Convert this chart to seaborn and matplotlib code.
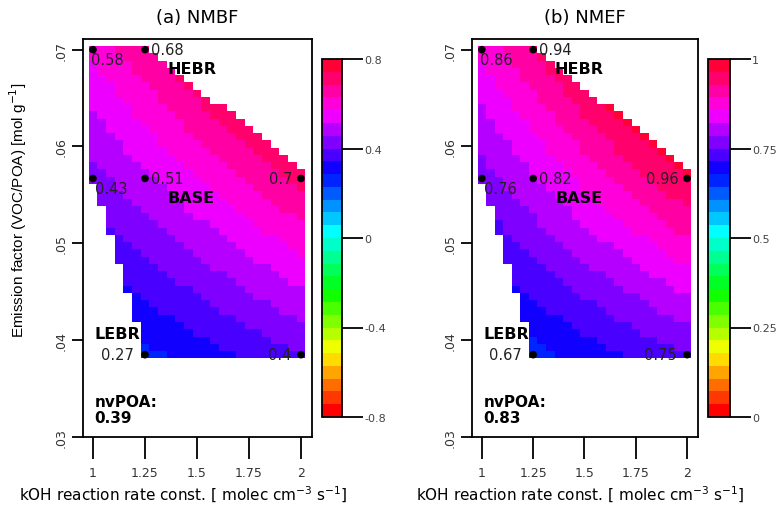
import colorsys
import numpy as np
import matplotlib
matplotlib.use("Agg")
import matplotlib.pyplot as plt
from matplotlib.colors import ListedColormap, BoundaryNorm
from matplotlib.ticker import NullLocator
import seaborn as sns

# labelled model runs (kOH rate const., emission factor) and their scores
run_koh = [1.0, 1.25, 1.0, 1.25, 2.0, 1.25, 2.0]
run_ef = [0.07, 0.07, 0.0567, 0.0567, 0.0567, 0.0385, 0.0385]
nmbf_vals = [0.58, 0.68, 0.43, 0.51, 0.70, 0.27, 0.40]
nmef_vals = [0.86, 0.94, 0.76, 0.82, 0.96, 0.67, 0.75]
nvpoa_vals = [0.39, 0.83]

upper_koh = [1.0, 1.25, 2.0]
upper_ef = [0.0706, 0.0706, 0.0574]
lower_koh = [1.0, 1.04, 1.07, 1.115, 1.163, 1.202, 1.226, 1.245, 2.0]
lower_ef = [0.0559, 0.0538, 0.0514, 0.0484, 0.0450, 0.0425, 0.0404, 0.0380, 0.0380]

x_ticks = [1, 1.25, 1.5, 1.75, 2]
x_ticklabels = ["1", "1.25", "1.5", "1.75", "2"]
y_ticks = [0.03, 0.04, 0.05, 0.06, 0.07]
y_ticklabels = [".03", ".04", ".05", ".06", ".07"]

titles = ["(a) NMBF", "(b) NMEF"]
cbar_ranges = [(-0.8, 0.8), (0.0, 1.0)]
cbar_ticks = [[-0.8, -0.4, 0, 0.4, 0.8], [0, 0.25, 0.5, 0.75, 1]]
cbar_ticklabels = [["-0.8", "-0.4", "0", "0.4", "0.8"], ["0", "0.25", "0.5", "0.75", "1"]]

# (run index, dx px, dy px, ha)
point_labels = [(0, -2, -10, "left"), (1, 6, 0, "left"), (2, 2, -10, "left"),
                (3, 6, 0, "left"), (4, -8, 0, "right"), (5, -11, 0, "right"),
                (6, -10, 0, "right")]

N_LEVELS = 28

sns.set_style("white")
plt.rcParams["font.family"] = ["DejaVu Sans"]
plt.rcParams["text.color"] = "black"

# R-like rainbow palette
colors = [colorsys.hsv_to_rgb(i / N_LEVELS, 1, 1) for i in range(N_LEVELS)]
cmap = ListedColormap(colors)

# response surface grid
gx = np.linspace(1.0, 2.0, 25)
gy = np.linspace(0.0385, 0.07, 43)
GX, GY = np.meshgrid(gx, gy)
inside = (GY <= np.interp(GX, upper_koh, upper_ef) + 1e-9) & (GY >= np.interp(GX, lower_koh, lower_ef) - 1e-9)

fig = plt.figure(figsize=(7.81, 5.06), dpi=100)
W, H = 781, 506


def fig_rect(l, t, r, b):
    return [l / W, 1 - b / H, (r - l) / W, (b - t) / H]


axes_px = [(83, 40, 312, 438), (472, 40, 698, 438)]
cbar_px = [(322, 60, 342, 418), (708, 60, 730, 418)]
xlabel_cx = [183, 580]
px2pt = 0.72

for k, vals in enumerate([nmbf_vals, nmef_vals]):
    ax = fig.add_axes(fig_rect(*axes_px[k]))
    # bilinear response surface through the labelled runs
    A = np.column_stack([np.ones(7), run_koh, run_ef, np.multiply(run_koh, run_ef)])
    coef, *_ = np.linalg.lstsq(A, np.array(vals), rcond=None)
    Z = coef[0] + coef[1] * GX + coef[2] * GY + coef[3] * GX * GY
    Z = np.ma.masked_where(~inside, Z)

    lo, hi = cbar_ranges[k]
    norm = BoundaryNorm(np.linspace(lo, hi, N_LEVELS + 1), N_LEVELS)
    mesh = ax.pcolormesh(gx, gy, Z, cmap=cmap, norm=norm, shading="nearest")

    sns.scatterplot(x=run_koh, y=run_ef, ax=ax, color="black", s=30, edgecolor="none", zorder=5)

    for j, dx, dy, ha in point_labels:
        ax.annotate(f"{vals[j]:g}", (run_koh[j], run_ef[j]), xytext=(dx * px2pt, dy * px2pt),
                    textcoords="offset points", ha=ha, va="center", fontsize=10.5, color="#222222")

    ax.text(0.475, 0.925, "HEBR", transform=ax.transAxes, ha="center", va="center",
            fontsize=11.5, fontweight="bold")
    ax.text(0.472, 0.603, "BASE", transform=ax.transAxes, ha="center", va="center",
            fontsize=11.5, fontweight="bold")
    ax.text(0.05, 0.259, "LEBR", transform=ax.transAxes, ha="left", va="center",
            fontsize=11.5, fontweight="bold")
    ax.text(0.05, 0.090, "nvPOA:", transform=ax.transAxes, ha="left", va="center",
            fontsize=11, fontweight="bold")
    ax.text(0.05, 0.050, f"{nvpoa_vals[k]:.2f}", transform=ax.transAxes, ha="left", va="center",
            fontsize=11, fontweight="bold")

    ax.set_xlim(0.952, 2.053)
    ax.set_ylim(0.03, 0.0711)
    ax.set_xticks(x_ticks)
    ax.set_xticklabels(x_ticklabels, fontsize=9, color="#333333")
    ax.set_yticks(y_ticks)
    ax.set_yticklabels(y_ticklabels, fontsize=9, color="#333333", rotation=90, va="center")
    ax.tick_params(axis="x", direction="out", length=16, width=1.3, pad=5, bottom=True, color="black")
    ax.tick_params(axis="y", direction="out", length=8, width=1.3, pad=3, left=True, color="black")
    for sp in ax.spines.values():
        sp.set_visible(True)
        sp.set_color("black")
        sp.set_linewidth(1.3)
    ax.set_title(titles[k], fontsize=13, pad=12, color="black")

    cax = fig.add_axes(fig_rect(*cbar_px[k]))
    cb = fig.colorbar(mesh, cax=cax, ticks=cbar_ticks[k])
    cb.minorticks_off()
    cb.ax.yaxis.set_minor_locator(NullLocator())
    cb.ax.set_yticklabels(cbar_ticklabels[k], fontsize=8, color="#444444")
    cb.ax.tick_params(which="major", length=15, width=1.3, color="black", pad=1)
    cb.outline.set_linewidth(1.3)
    cb.outline.set_edgecolor("black")

    fig.text(xlabel_cx[k] / W, 1 - 495 / H,
             "kOH reaction rate const. [ molec cm$^{-3}$ s$^{-1}$]", ha="center", va="center",
             fontsize=11)

fig.text(18 / W, 1 - 210 / H, "Emission factor (VOC/POA) [mol g$^{-1}$]", rotation=90,
         ha="center", va="center", fontsize=11, family=["Liberation Sans", "DejaVu Sans"])

fig.savefig("out.png", dpi=100)
